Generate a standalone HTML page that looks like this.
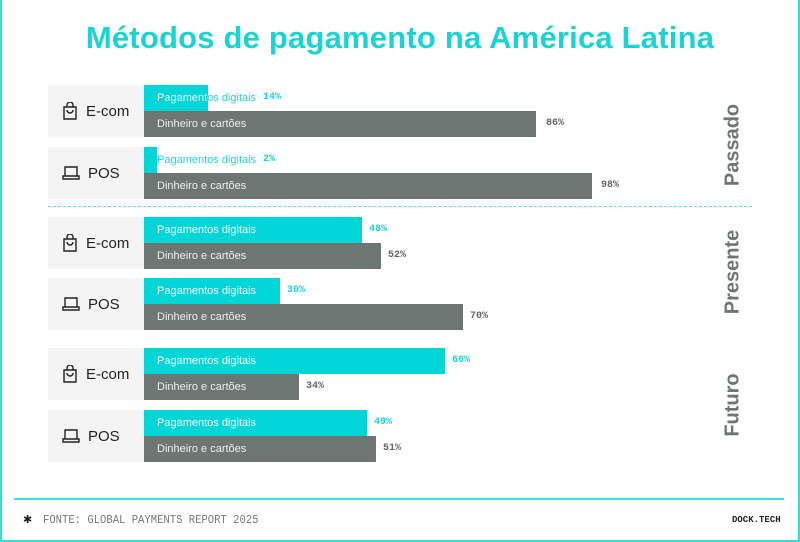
<!DOCTYPE html>
<html><head><meta charset="utf-8"><style>
*{margin:0;padding:0;box-sizing:border-box}
body{width:800px;height:542px;background:#fff;position:relative;overflow:hidden;font-family:"Liberation Sans",sans-serif}
.frame{position:absolute;left:0;top:0;width:800px;height:542px;border:2px solid #2ee0dc;border-top:none}
.title{position:absolute;top:20px;left:0;width:800px;text-align:center;color:#1ad3d3;font-size:31px;font-weight:bold;letter-spacing:0.2px}
.lab{position:absolute;left:48px;width:96px;height:52px;background:#f4f4f4;color:#222;font-size:15px;display:flex;align-items:center;padding-left:14px}
.lab svg{margin-right:8px}
.bar{position:absolute;left:144px;height:26px;color:#fff;font-size:11px;line-height:26px;padding-left:13px;white-space:nowrap}
.c{background:#00d5d8}
.g{background:#6e7673;color:#eee}
.ov{position:absolute;font-size:11px;line-height:26px;white-space:nowrap;color:transparent;-webkit-background-clip:text;background-clip:text}
.pc{position:absolute;font-size:10px;font-weight:bold;font-family:"Liberation Mono",monospace;line-height:26px}
.side{position:absolute;left:733px;color:#6e7673;font-weight:bold;font-size:20px;transform:translate(-50%,-50%) rotate(-90deg);white-space:nowrap}
</style></head><body>
<div class="frame"></div>
<div class="title">Métodos de pagamento na América Latina</div>

<svg width="0" height="0" style="position:absolute"><defs>
<symbol id="bag" viewBox="0 0 16 18"><path d="M2 5h12v12H2z M5 5V3a3 3 0 0 1 6 0v2 M5 8a3 3 0 0 0 6 0" fill="none" stroke="#222" stroke-width="1.4"/></symbol>
<symbol id="lap" viewBox="0 0 18 16"><path d="M3 2h12v9H3z M1 11h16v3H1z" fill="none" stroke="#222" stroke-width="1.4"/></symbol>
</defs></svg>

<div class="lab" style="top:85px"><svg width="16" height="18"><use href="#bag"/></svg>E-com</div>
<div class="bar c" style="top:85px;width:64px"></div>
<div class="ov" style="left:157px;top:85px;background-image:linear-gradient(90deg,#fff 0 51px,#1ad3d3 51px)">Pagamentos digitais</div>
<div class="pc" style="left:263px;top:85px;color:#1ad3d3">14%</div>
<div class="bar g" style="top:111px;width:392px">Dinheiro e cartões</div>
<div class="pc" style="left:546px;top:111px;color:#666">86%</div>

<div class="lab" style="top:147px"><svg width="18" height="16"><use href="#lap"/></svg>POS</div>
<div class="bar c" style="top:147px;width:8px"></div>
<div class="ov" style="left:157px;top:147px;background-image:linear-gradient(90deg,#1ad3d3,#1ad3d3)">Pagamentos digitais</div>
<div class="pc" style="left:263px;top:147px;color:#1ad3d3">2%</div>
<div class="bar g" style="top:173px;width:448px">Dinheiro e cartões</div>
<div class="pc" style="left:601px;top:173px;color:#666">98%</div>

<div style="position:absolute;left:48px;top:206px;width:704px;border-top:1.5px dashed #5ee3e3"></div>

<div class="lab" style="top:217px"><svg width="16" height="18"><use href="#bag"/></svg>E-com</div>
<div class="bar c" style="top:217px;width:218px">Pagamentos digitais</div>
<div class="pc" style="left:369px;top:217px;color:#1ad3d3">48%</div>
<div class="bar g" style="top:243px;width:237px">Dinheiro e cartões</div>
<div class="pc" style="left:388px;top:243px;color:#666">52%</div>

<div class="lab" style="top:278px"><svg width="18" height="16"><use href="#lap"/></svg>POS</div>
<div class="bar c" style="top:278px;width:136px">Pagamentos digitais</div>
<div class="pc" style="left:287px;top:278px;color:#1ad3d3">30%</div>
<div class="bar g" style="top:304px;width:319px">Dinheiro e cartões</div>
<div class="pc" style="left:470px;top:304px;color:#666">70%</div>

<div class="lab" style="top:348px"><svg width="16" height="18"><use href="#bag"/></svg>E-com</div>
<div class="bar c" style="top:348px;width:301px">Pagamentos digitais</div>
<div class="pc" style="left:452px;top:348px;color:#1ad3d3">66%</div>
<div class="bar g" style="top:374px;width:155px">Dinheiro e cartões</div>
<div class="pc" style="left:306px;top:374px;color:#666">34%</div>

<div class="lab" style="top:410px"><svg width="18" height="16"><use href="#lap"/></svg>POS</div>
<div class="bar c" style="top:410px;width:223px">Pagamentos digitais</div>
<div class="pc" style="left:374px;top:410px;color:#1ad3d3">49%</div>
<div class="bar g" style="top:436px;width:232px">Dinheiro e cartões</div>
<div class="pc" style="left:383px;top:436px;color:#666">51%</div>

<div class="side" style="top:145px">Passado</div>
<div class="side" style="top:272px">Presente</div>
<div class="side" style="top:405px">Futuro</div>

<div style="position:absolute;left:14px;top:498px;width:770px;height:2px;background:#3fe0e0"></div>
<div style="position:absolute;left:23px;top:513px;font-size:11px;color:#222">✱</div>
<div style="position:absolute;left:43px;top:513px;font-family:'Liberation Mono',monospace;font-size:12px;color:#777;transform:scaleX(0.88);transform-origin:left">FONTE: GLOBAL PAYMENTS REPORT 2025</div>
<div style="position:absolute;left:732px;top:515px;font-family:'Liberation Mono',monospace;font-size:9px;color:#222;font-weight:bold">DOCK.TECH</div>
</body></html>
